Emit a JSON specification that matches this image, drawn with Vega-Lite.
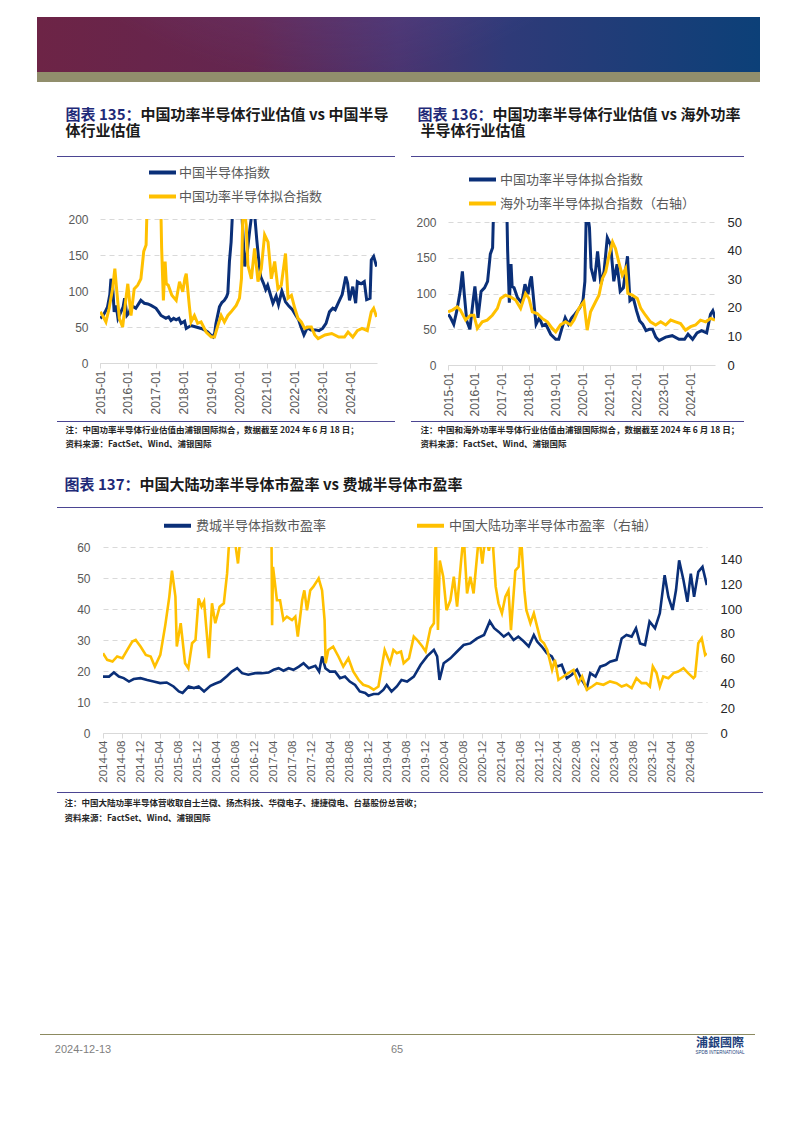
{
"$schema": "https://vega.github.io/schema/vega-lite/v6.json",
"background": "white",
"padding": {"left": 37, "top": 17, "right": 0, "bottom": 0},
"spacing": 0,
"resolve": {"scale": {"color": "independent"}, "legend": {"color": "independent"}},
"config": {
  "view": {"stroke": null},
  "font": "Noto Sans CJK SC",
  "concat": {"spacing": 0},
  "axis": {"labelFont": "Liberation Sans", "labelColor": "#595959", "labelFontSize": 12, "gridColor": "#d9d9d9", "gridDash": [5, 4], "domainColor": "#d9d9d9", "tickColor": "#d9d9d9"},
  "legend": {"labelFont": "Noto Sans CJK SC", "labelColor": "#595959", "labelFontSize": 13, "labelLimit": 300}
},
"datasets": {
"semi": [{"d":"2015-01-05","v":62},{"d":"2015-02-10","v":66},{"d":"2015-03-10","v":71},{"d":"2015-04-10","v":78},{"d":"2015-05-10","v":95},{"d":"2015-05-25","v":117},{"d":"2015-06-15","v":108},{"d":"2015-07-06","v":71},{"d":"2015-08-01","v":80},{"d":"2015-08-25","v":62},{"d":"2015-10-03","v":71},{"d":"2015-11-01","v":78},{"d":"2015-11-20","v":90},{"d":"2015-12-20","v":66},{"d":"2016-01-20","v":70},{"d":"2016-02-15","v":80},{"d":"2016-04-15","v":76},{"d":"2016-06-20","v":87},{"d":"2016-08-05","v":83},{"d":"2016-09-20","v":82},{"d":"2016-11-01","v":80},{"d":"2017-01-06","v":76},{"d":"2017-02-15","v":70},{"d":"2017-03-12","v":66},{"d":"2017-05-15","v":62},{"d":"2017-06-20","v":64},{"d":"2017-07-21","v":59},{"d":"2017-08-25","v":62},{"d":"2017-09-27","v":60},{"d":"2017-11-01","v":62},{"d":"2017-12-01","v":55},{"d":"2018-01-15","v":58},{"d":"2018-02-06","v":48},{"d":"2018-04-10","v":52},{"d":"2018-06-15","v":50},{"d":"2018-08-21","v":48},{"d":"2018-10-01","v":46},{"d":"2018-11-15","v":43},{"d":"2019-01-10","v":37},{"d":"2019-01-25","v":36},{"d":"2019-02-15","v":42},{"d":"2019-03-03","v":55},{"d":"2019-04-18","v":78},{"d":"2019-05-20","v":84},{"d":"2019-06-21","v":87},{"d":"2019-07-20","v":92},{"d":"2019-08-06","v":97},{"d":"2019-08-27","v":141},{"d":"2019-09-18","v":168},{"d":"2019-10-09","v":215},{"d":"2019-11-15","v":230},{"d":"2019-12-20","v":220},{"d":"2020-02-10","v":200},{"d":"2020-03-15","v":134},{"d":"2020-04-10","v":148},{"d":"2020-05-20","v":185},{"d":"2020-06-25","v":215},{"d":"2020-07-20","v":210},{"d":"2020-08-20","v":171},{"d":"2020-09-10","v":148},{"d":"2020-10-10","v":120},{"d":"2020-11-15","v":111},{"d":"2020-12-15","v":102},{"d":"2021-01-10","v":108},{"d":"2021-02-20","v":93},{"d":"2021-03-20","v":83},{"d":"2021-05-01","v":93},{"d":"2021-06-01","v":81},{"d":"2021-07-15","v":100},{"d":"2021-09-01","v":85},{"d":"2021-10-15","v":79},{"d":"2021-12-01","v":74},{"d":"2022-01-15","v":66},{"d":"2022-02-20","v":60},{"d":"2022-03-20","v":51},{"d":"2022-05-01","v":39},{"d":"2022-06-15","v":49},{"d":"2022-08-01","v":46},{"d":"2022-10-01","v":46},{"d":"2022-11-15","v":45},{"d":"2023-01-01","v":48},{"d":"2023-02-15","v":55},{"d":"2023-04-01","v":71},{"d":"2023-05-15","v":76},{"d":"2023-06-15","v":74},{"d":"2023-08-01","v":85},{"d":"2023-09-15","v":95},{"d":"2023-11-01","v":120},{"d":"2023-11-25","v":111},{"d":"2023-12-20","v":87},{"d":"2024-02-01","v":106},{"d":"2024-03-10","v":83},{"d":"2024-04-01","v":113},{"d":"2024-05-20","v":110},{"d":"2024-07-01","v":113},{"d":"2024-08-01","v":88},{"d":"2024-09-15","v":90},{"d":"2024-10-01","v":143},{"d":"2024-11-01","v":148},{"d":"2024-12-10","v":134}],
"pw": [{"d":"2015-01-05","v":71},{"d":"2015-02-05","v":66},{"d":"2015-03-20","v":57},{"d":"2015-05-01","v":76},{"d":"2015-06-15","v":103},{"d":"2015-07-15","v":131},{"d":"2015-08-10","v":99},{"d":"2015-09-12","v":62},{"d":"2015-10-25","v":50},{"d":"2015-12-08","v":90},{"d":"2016-01-01","v":110},{"d":"2016-02-12","v":66},{"d":"2016-03-25","v":103},{"d":"2016-05-10","v":108},{"d":"2016-06-21","v":117},{"d":"2016-07-28","v":155},{"d":"2016-08-28","v":164},{"d":"2016-09-18","v":250},{"d":"2016-11-15","v":270},{"d":"2017-01-15","v":260},{"d":"2017-03-05","v":240},{"d":"2017-03-20","v":160},{"d":"2017-04-12","v":87},{"d":"2017-05-05","v":141},{"d":"2017-05-20","v":110},{"d":"2017-06-15","v":108},{"d":"2017-08-01","v":94},{"d":"2017-09-27","v":87},{"d":"2017-11-10","v":113},{"d":"2017-12-22","v":99},{"d":"2018-01-20","v":118},{"d":"2018-02-06","v":124},{"d":"2018-03-18","v":80},{"d":"2018-04-10","v":57},{"d":"2018-05-24","v":66},{"d":"2018-07-06","v":55},{"d":"2018-08-20","v":57},{"d":"2018-10-25","v":43},{"d":"2019-01-01","v":36},{"d":"2019-02-12","v":36},{"d":"2019-03-28","v":52},{"d":"2019-05-10","v":66},{"d":"2019-06-22","v":57},{"d":"2019-08-06","v":66},{"d":"2019-09-18","v":71},{"d":"2019-11-24","v":80},{"d":"2020-01-06","v":90},{"d":"2020-02-01","v":117},{"d":"2020-02-22","v":225},{"d":"2020-04-03","v":192},{"d":"2020-04-25","v":136},{"d":"2020-06-10","v":117},{"d":"2020-07-22","v":159},{"d":"2020-09-05","v":113},{"d":"2020-10-18","v":131},{"d":"2020-12-01","v":178},{"d":"2021-01-15","v":168},{"d":"2021-02-27","v":117},{"d":"2021-04-12","v":141},{"d":"2021-05-25","v":103},{"d":"2021-07-07","v":108},{"d":"2021-09-01","v":152},{"d":"2021-10-04","v":90},{"d":"2021-11-18","v":94},{"d":"2022-01-01","v":76},{"d":"2022-02-12","v":62},{"d":"2022-03-27","v":57},{"d":"2022-05-10","v":48},{"d":"2022-06-24","v":50},{"d":"2022-08-06","v":50},{"d":"2022-09-20","v":39},{"d":"2022-11-03","v":34},{"d":"2023-02-01","v":39},{"d":"2023-05-01","v":41},{"d":"2023-08-01","v":36},{"d":"2023-10-15","v":36},{"d":"2023-12-01","v":43},{"d":"2024-02-01","v":36},{"d":"2024-04-01","v":45},{"d":"2024-06-01","v":48},{"d":"2024-08-10","v":45},{"d":"2024-10-01","v":71},{"d":"2024-11-01","v":76},{"d":"2024-12-10","v":64}],
"os": [{"d":"2015-01-01","v":18.6},{"d":"2015-03-01","v":19.2},{"d":"2015-05-06","v":20.3},{"d":"2015-06-18","v":19.2},{"d":"2015-08-28","v":15.7},{"d":"2015-11-03","v":17.4},{"d":"2015-12-18","v":17.4},{"d":"2016-02-03","v":12.8},{"d":"2016-04-10","v":15.1},{"d":"2016-06-15","v":15.7},{"d":"2016-08-25","v":17.4},{"d":"2016-11-01","v":19.8},{"d":"2016-12-15","v":23.3},{"d":"2017-02-20","v":24.4},{"d":"2017-04-28","v":23.8},{"d":"2017-07-06","v":22.7},{"d":"2017-09-12","v":19.8},{"d":"2017-11-18","v":25},{"d":"2018-01-03","v":23.3},{"d":"2018-02-18","v":18.6},{"d":"2018-04-25","v":18},{"d":"2018-07-01","v":16.3},{"d":"2018-09-10","v":15.1},{"d":"2018-11-15","v":12.8},{"d":"2019-01-01","v":11.6},{"d":"2019-03-06","v":14},{"d":"2019-05-15","v":15.1},{"d":"2019-07-22","v":14},{"d":"2019-09-06","v":15.7},{"d":"2019-11-12","v":19.8},{"d":"2020-01-18","v":22.1},{"d":"2020-03-03","v":12.2},{"d":"2020-04-18","v":18.6},{"d":"2020-06-25","v":22.1},{"d":"2020-08-10","v":24.4},{"d":"2020-09-25","v":30.2},{"d":"2020-11-10","v":32.6},{"d":"2020-12-25","v":38.4},{"d":"2021-02-10","v":43},{"d":"2021-03-22","v":40.7},{"d":"2021-05-06","v":36},{"d":"2021-06-22","v":31.4},{"d":"2021-08-06","v":33.7},{"d":"2021-09-06","v":25},{"d":"2021-11-06","v":24.4},{"d":"2022-01-12","v":23.3},{"d":"2022-02-28","v":19.8},{"d":"2022-05-03","v":17.4},{"d":"2022-07-10","v":15.1},{"d":"2022-09-18","v":14},{"d":"2022-11-25","v":15.1},{"d":"2023-02-01","v":14},{"d":"2023-04-10","v":15.7},{"d":"2023-06-15","v":15.1},{"d":"2023-08-22","v":14.5},{"d":"2023-10-28","v":12.2},{"d":"2024-01-06","v":13.4},{"d":"2024-03-12","v":14},{"d":"2024-05-18","v":15.7},{"d":"2024-07-28","v":15.1},{"d":"2024-10-03","v":16.3},{"d":"2024-12-01","v":15.7}],
"sox": [{"d":"2014-04-01","v":18.2},{"d":"2014-05-10","v":18.2},{"d":"2014-06-10","v":19.5},{"d":"2014-07-12","v":18.2},{"d":"2014-08-12","v":17.7},{"d":"2014-09-15","v":16.6},{"d":"2014-10-15","v":17.4},{"d":"2014-11-28","v":17.7},{"d":"2015-01-10","v":17.1},{"d":"2015-02-20","v":16.6},{"d":"2015-04-03","v":16.1},{"d":"2015-05-15","v":16.3},{"d":"2015-06-28","v":15},{"d":"2015-08-01","v":13.4},{"d":"2015-08-25","v":12.9},{"d":"2015-10-03","v":15},{"d":"2015-11-06","v":14.5},{"d":"2015-12-06","v":15},{"d":"2016-01-10","v":13.4},{"d":"2016-02-20","v":15.2},{"d":"2016-03-20","v":15.9},{"d":"2016-04-25","v":16.6},{"d":"2016-06-06","v":18.4},{"d":"2016-07-06","v":19.8},{"d":"2016-08-10","v":20.9},{"d":"2016-09-10","v":19.3},{"d":"2016-10-20","v":18.8},{"d":"2016-12-03","v":19.3},{"d":"2017-01-15","v":19.3},{"d":"2017-02-27","v":19.5},{"d":"2017-04-01","v":20.4},{"d":"2017-05-03","v":20.9},{"d":"2017-06-03","v":20.1},{"d":"2017-07-06","v":20.9},{"d":"2017-08-06","v":20.4},{"d":"2017-09-10","v":21.4},{"d":"2017-10-10","v":22.5},{"d":"2017-11-12","v":20.9},{"d":"2017-12-25","v":21.7},{"d":"2018-01-18","v":19.8},{"d":"2018-02-06","v":24.7},{"d":"2018-02-27","v":20.9},{"d":"2018-03-28","v":19.8},{"d":"2018-05-01","v":19.8},{"d":"2018-06-01","v":17.7},{"d":"2018-07-03","v":18.2},{"d":"2018-08-03","v":16.6},{"d":"2018-09-06","v":15.5},{"d":"2018-10-06","v":13.4},{"d":"2018-11-10","v":12.9},{"d":"2018-12-01","v":12},{"d":"2019-01-03","v":12.6},{"d":"2019-02-03","v":12.6},{"d":"2019-03-06","v":13.9},{"d":"2019-03-28","v":15.5},{"d":"2019-04-28","v":13.4},{"d":"2019-06-01","v":15},{"d":"2019-07-01","v":17.1},{"d":"2019-08-06","v":16.6},{"d":"2019-09-18","v":18.2},{"d":"2019-11-01","v":22},{"d":"2019-12-12","v":24.7},{"d":"2020-01-25","v":26.8},{"d":"2020-02-15","v":24.7},{"d":"2020-03-01","v":17.1},{"d":"2020-03-28","v":22.5},{"d":"2020-05-10","v":24.1},{"d":"2020-06-22","v":26.3},{"d":"2020-08-03","v":28.4},{"d":"2020-09-15","v":28.9},{"d":"2020-10-28","v":30.5},{"d":"2020-12-12","v":31.6},{"d":"2021-01-18","v":36},{"d":"2021-02-15","v":33.8},{"d":"2021-03-15","v":32.7},{"d":"2021-04-18","v":31.1},{"d":"2021-05-18","v":32.2},{"d":"2021-06-20","v":30},{"d":"2021-07-20","v":31.1},{"d":"2021-08-25","v":29.5},{"d":"2021-09-25","v":27.9},{"d":"2021-10-28","v":31.6},{"d":"2021-11-18","v":29.5},{"d":"2021-12-18","v":27.9},{"d":"2022-01-20","v":25.7},{"d":"2022-02-20","v":24.7},{"d":"2022-03-25","v":21.4},{"d":"2022-04-25","v":22},{"d":"2022-05-28","v":17.7},{"d":"2022-06-28","v":18.8},{"d":"2022-08-01","v":20.4},{"d":"2022-09-01","v":17.1},{"d":"2022-10-03","v":14.5},{"d":"2022-10-25","v":19.3},{"d":"2022-11-28","v":18.2},{"d":"2022-12-28","v":21.4},{"d":"2023-02-01","v":22},{"d":"2023-03-01","v":23},{"d":"2023-04-12","v":23.6},{"d":"2023-05-15","v":30.5},{"d":"2023-06-15","v":31.6},{"d":"2023-07-18","v":31.1},{"d":"2023-08-15","v":33.8},{"d":"2023-09-10","v":28.9},{"d":"2023-10-12","v":28.4},{"d":"2023-11-10","v":36},{"d":"2023-12-15","v":33.8},{"d":"2024-01-15","v":38.6},{"d":"2024-02-15","v":50.9},{"d":"2024-03-10","v":43.9},{"d":"2024-04-06","v":39.7},{"d":"2024-04-28","v":46.1},{"d":"2024-05-18","v":55.7},{"d":"2024-06-15","v":49.3},{"d":"2024-07-10","v":42.3},{"d":"2024-08-01","v":51.4},{"d":"2024-08-22","v":43.9},{"d":"2024-09-18","v":52},{"d":"2024-10-15","v":53.6},{"d":"2024-11-12","v":47.7}],
"cnpe": [{"d":"2014-04-01","v":64.3},{"d":"2014-04-28","v":59},{"d":"2014-06-01","v":57.6},{"d":"2014-07-01","v":61.7},{"d":"2014-08-04","v":60.3},{"d":"2014-09-04","v":67},{"d":"2014-10-06","v":73.7},{"d":"2014-10-28","v":75},{"d":"2014-11-28","v":69.7},{"d":"2015-01-01","v":63},{"d":"2015-02-01","v":61.7},{"d":"2015-02-28","v":53.6},{"d":"2015-04-04","v":63},{"d":"2015-05-06","v":87},{"d":"2015-06-01","v":110},{"d":"2015-06-18","v":131},{"d":"2015-07-10","v":110},{"d":"2015-07-19","v":69.7},{"d":"2015-08-13","v":88.5},{"d":"2015-09-10","v":56.3},{"d":"2015-10-01","v":52.3},{"d":"2015-10-25","v":72.4},{"d":"2015-11-16","v":75},{"d":"2015-12-06","v":108.6},{"d":"2015-12-25","v":101.9},{"d":"2016-01-10","v":106},{"d":"2016-02-10","v":60.3},{"d":"2016-03-01","v":104.6},{"d":"2016-03-22","v":88.5},{"d":"2016-04-19","v":101.9},{"d":"2016-05-16","v":104.6},{"d":"2016-06-06","v":128.7},{"d":"2016-06-22","v":160},{"d":"2016-07-15","v":165},{"d":"2016-08-15","v":136.7},{"d":"2016-09-01","v":160},{"d":"2016-10-15","v":175},{"d":"2016-12-15","v":180},{"d":"2017-02-10","v":170},{"d":"2017-03-18","v":160},{"d":"2017-03-22","v":87},{"d":"2017-03-28","v":134},{"d":"2017-04-22","v":107},{"d":"2017-05-12","v":107},{"d":"2017-06-03","v":91},{"d":"2017-06-25","v":93.8},{"d":"2017-07-28","v":91},{"d":"2017-08-18","v":93.8},{"d":"2017-09-03","v":77.7},{"d":"2017-10-01","v":107},{"d":"2017-10-15","v":115},{"d":"2017-11-01","v":99},{"d":"2017-11-22","v":115},{"d":"2017-12-12","v":118},{"d":"2018-01-15","v":124.7},{"d":"2018-02-06","v":115},{"d":"2018-02-22","v":91},{"d":"2018-03-01","v":56.3},{"d":"2018-03-18","v":67},{"d":"2018-04-18","v":69.7},{"d":"2018-05-22","v":61.7},{"d":"2018-06-22","v":53.6},{"d":"2018-07-25","v":60.3},{"d":"2018-08-25","v":49.6},{"d":"2018-09-28","v":42.9},{"d":"2018-10-28","v":38.9},{"d":"2018-12-01","v":37.5},{"d":"2019-01-03","v":34.9},{"d":"2019-02-03","v":37.5},{"d":"2019-02-25","v":53.6},{"d":"2019-03-15","v":67},{"d":"2019-04-18","v":56.3},{"d":"2019-05-10","v":67},{"d":"2019-06-01","v":64.3},{"d":"2019-06-28","v":65.7},{"d":"2019-07-15","v":56.3},{"d":"2019-08-18","v":60.3},{"d":"2019-09-18","v":77.7},{"d":"2019-10-10","v":75},{"d":"2019-11-12","v":69.7},{"d":"2019-12-03","v":65.7},{"d":"2020-01-03","v":84.5},{"d":"2020-01-25","v":88.5},{"d":"2020-02-06","v":160},{"d":"2020-02-20","v":83},{"d":"2020-03-03","v":139},{"d":"2020-03-25","v":126},{"d":"2020-04-15","v":99},{"d":"2020-05-10","v":107},{"d":"2020-06-01","v":126},{"d":"2020-06-22","v":102},{"d":"2020-07-18","v":139},{"d":"2020-08-03","v":160},{"d":"2020-08-25","v":112.6},{"d":"2020-09-15","v":126},{"d":"2020-10-06","v":112.6},{"d":"2020-11-10","v":160},{"d":"2020-12-01","v":136.7},{"d":"2020-12-22","v":160},{"d":"2021-01-12","v":147},{"d":"2021-02-03","v":160},{"d":"2021-02-25","v":118},{"d":"2021-03-15","v":104.6},{"d":"2021-04-06","v":96.5},{"d":"2021-04-28","v":110},{"d":"2021-05-18","v":115},{"d":"2021-06-03","v":83},{"d":"2021-07-01","v":131},{"d":"2021-07-22","v":134},{"d":"2021-08-06","v":160},{"d":"2021-08-28","v":115},{"d":"2021-09-10","v":99},{"d":"2021-10-06","v":88.5},{"d":"2021-10-28","v":96.5},{"d":"2021-11-18","v":85.8},{"d":"2021-12-10","v":75},{"d":"2022-01-01","v":72.4},{"d":"2022-01-22","v":67},{"d":"2022-02-22","v":50.9},{"d":"2022-03-12","v":59},{"d":"2022-04-04","v":42.9},{"d":"2022-05-06","v":45.6},{"d":"2022-06-06","v":48.3},{"d":"2022-07-10","v":50.9},{"d":"2022-08-10","v":40.2},{"d":"2022-09-03","v":45.6},{"d":"2022-10-03","v":34.9},{"d":"2022-11-06","v":37.5},{"d":"2022-12-06","v":40.2},{"d":"2023-01-18","v":38.9},{"d":"2023-03-01","v":41.6},{"d":"2023-04-12","v":40.2},{"d":"2023-05-15","v":37.5},{"d":"2023-06-15","v":38.9},{"d":"2023-07-18","v":36.2},{"d":"2023-08-18","v":44.2},{"d":"2023-09-20","v":40.2},{"d":"2023-10-20","v":40.2},{"d":"2023-11-12","v":37.5},{"d":"2023-12-01","v":53.6},{"d":"2023-12-25","v":48.3},{"d":"2024-01-15","v":37.5},{"d":"2024-02-06","v":45.6},{"d":"2024-03-10","v":44.2},{"d":"2024-04-12","v":48.3},{"d":"2024-05-12","v":49.6},{"d":"2024-06-15","v":52.3},{"d":"2024-07-15","v":48.3},{"d":"2024-08-18","v":44.2},{"d":"2024-08-28","v":45.6},{"d":"2024-09-18","v":72.4},{"d":"2024-10-10","v":76.4},{"d":"2024-11-01","v":63},{"d":"2024-11-12","v":64.3}]
},
"vconcat": [
  {"width": 723, "height": 55, "data": {"values": [{}]},
   "layer": [
     {"mark": {"type": "rect", "fill": {"gradient": "linear", "x1": 0, "y1": 0, "x2": 1, "y2": 0, "stops": [{"offset": 0, "color": "#6d2446"}, {"offset": 0.3, "color": "#632650"}, {"offset": 0.5, "color": "#4a3470"}, {"offset": 0.65, "color": "#2f3a78"}, {"offset": 1, "color": "#0c4078"}]}}},
     {"mark": {"type": "rect", "fill": {"gradient": "radial", "x1": 0.4, "y1": 0, "r1": 0, "x2": 0.4, "y2": 0, "r2": 0.55, "stops": [{"offset": 0, "color": "rgba(125,105,195,0.65)"}, {"offset": 1, "color": "rgba(125,105,195,0)"}]}}},
     {"mark": {"type": "rect", "fill": {"gradient": "radial", "x1": 0.55, "y1": 1, "r1": 0, "x2": 0.55, "y2": 1, "r2": 0.45, "stops": [{"offset": 0, "color": "rgba(30,10,30,0.6)"}, {"offset": 1, "color": "rgba(30,10,30,0)"}]}}},
     {"mark": {"type": "rect", "fill": {"gradient": "radial", "x1": 1, "y1": 1, "r1": 0, "x2": 1, "y2": 1, "r2": 0.35, "stops": [{"offset": 0, "color": "rgba(90,55,150,0.7)"}, {"offset": 1, "color": "rgba(90,55,150,0)"}]}}}
   ]},
  {"width": 723, "height": 10, "data": {"values": [{}]}, "mark": {"type": "rect", "color": "#918e6c"}},
  {"hconcat": [
    {"width": 20, "height": 1, "data": {"values": [{}]}, "mark": {"type": "rect", "opacity": 0}},
    {"vconcat": [
      {"width": 1, "height": 25, "data": {"values": [{}]}, "mark": {"type": "rect", "opacity": 0}},
      {"width": 1, "height": 16, "data": {"values": [{}]},
       "layer": [
         {"mark": {"type": "text", "text": "图表 135：", "align": "right", "baseline": "middle", "dx": 83, "font": "Noto Sans CJK SC", "fontSize": 15, "fontWeight": "bold", "color": "#1f2a78"}},
         {"mark": {"type": "text", "text": "中国功率半导体行业估值 vs 中国半导", "align": "left", "baseline": "middle", "dx": 83, "font": "Noto Sans CJK SC", "fontSize": 15, "fontWeight": "bold", "color": "#1a1a1a"}}
       ]},
      {"width": 1, "height": 16, "data": {"values": [{}]},
       "mark": {"type": "text", "text": "体行业估值", "align": "left", "baseline": "middle", "dx": 8, "font": "Noto Sans CJK SC", "fontSize": 15, "fontWeight": "bold", "color": "#1a1a1a"}},
      {"width": 1, "height": 17, "data": {"values": [{}]}, "mark": {"type": "rect", "opacity": 0}},
      {"width": 338, "height": 1, "data": {"values": [{}]}, "mark": {"type": "rect", "color": "#4b4592"}},
      {"hconcat": [
        {"width": 1, "height": 1, "data": {"values": [{}]}, "mark": {"type": "rect", "opacity": 0}},
        {"width": 277, "height": 144,
         "layer": [
           {"data": {"name": "semi"}, "mark": {"type": "line", "clip": true, "strokeWidth": 3},
            "encoding": {
              "x": {"field": "d", "type": "temporal", "scale": {"domain": [{"year": 2015, "month": 1, "date": 1}, {"year": 2024, "month": 12, "date": 15}]},
                    "axis": {"title": null, "format": "%Y-%m", "labelAngle": 270, "tickCount": {"interval": "year", "step": 1}, "grid": false, "tickSize": 5, "labelPadding": 2, "labelOverlap": false, "labelFontSize": 12, "minExtent": 58, "maxExtent": 58}},
              "y": {"field": "v", "type": "quantitative", "scale": {"domain": [0, 200], "nice": false},
                    "axis": {"title": null, "values": [0, 50, 100, 150, 200], "grid": true, "domain": false, "ticks": false, "labelPadding": 12, "labelOverlap": false, "minExtent": 42, "maxExtent": 42}},
              "color": {"datum": "中国半导体指数", "scale": {"domain": ["中国半导体指数", "中国功率半导体拟合指数"], "range": ["#0a2f78", "#ffc000"]},
                        "legend": {"title": null, "orient": "none", "legendX": 47, "legendY": -62, "direction": "vertical", "symbolType": "stroke", "symbolStrokeWidth": 4, "symbolSize": 729, "rowPadding": -8, "labelOffset": 1}}
            }},
           {"data": {"name": "pw"}, "mark": {"type": "line", "clip": true, "strokeWidth": 3},
            "encoding": {
              "x": {"field": "d", "type": "temporal",
                    "axis": {"title": null, "format": "%Y-%m", "labelAngle": 270, "tickCount": {"interval": "year", "step": 1}, "grid": false, "tickSize": 5, "labelPadding": 2, "labelOverlap": false, "labelFontSize": 12, "minExtent": 58, "maxExtent": 58}},
              "y": {"field": "v", "type": "quantitative",
                    "axis": {"title": null, "values": [0, 50, 100, 150, 200], "grid": true, "domain": false, "ticks": false, "labelPadding": 12, "labelOverlap": false, "minExtent": 42, "maxExtent": 42}},
              "color": {"datum": "中国功率半导体拟合指数"}
            }}
         ]}
      ], "spacing": 0, "resolve": {"scale": {"color": "independent"}, "legend": {"color": "independent"}}},
      {"width": 338, "height": 1, "data": {"values": [{}]}, "mark": {"type": "rect", "color": "#4b4592"}},
      {"width": 1, "height": 1, "data": {"values": [{}]}, "mark": {"type": "rect", "opacity": 0}},
      {"width": 1, "height": 14, "data": {"values": [{}]},
       "mark": {"type": "text", "text": "注：中国功率半导体行业估值由浦银国际拟合，数据截至 2024 年 6 月 18 日；", "align": "left", "baseline": "middle", "dx": 8, "font": "Noto Sans CJK SC", "fontSize": 8.5, "fontWeight": "bold", "color": "#262626"}},
      {"width": 1, "height": 14, "data": {"values": [{}]},
       "mark": {"type": "text", "text": "资料来源：FactSet、Wind、浦银国际", "align": "left", "baseline": "middle", "dx": 8, "font": "Noto Sans CJK SC", "fontSize": 8.5, "fontWeight": "bold", "color": "#262626"}}
    ], "spacing": 0, "resolve": {"scale": {"color": "independent"}, "legend": {"color": "independent"}}},
    {"width": 16, "height": 1, "data": {"values": [{}]}, "mark": {"type": "rect", "opacity": 0}},
    {"vconcat": [
      {"width": 1, "height": 25, "data": {"values": [{}]}, "mark": {"type": "rect", "opacity": 0}},
      {"width": 1, "height": 16, "data": {"values": [{}]},
       "layer": [
         {"mark": {"type": "text", "text": "图表 136：", "align": "right", "baseline": "middle", "dx": 81, "font": "Noto Sans CJK SC", "fontSize": 15, "fontWeight": "bold", "color": "#1f2a78"}},
         {"mark": {"type": "text", "text": "中国功率半导体行业估值 vs 海外功率", "align": "left", "baseline": "middle", "dx": 81, "font": "Noto Sans CJK SC", "fontSize": 15, "fontWeight": "bold", "color": "#1a1a1a"}}
       ]},
      {"width": 1, "height": 16, "data": {"values": [{}]},
       "mark": {"type": "text", "text": "半导体行业估值", "align": "left", "baseline": "middle", "dx": 9, "font": "Noto Sans CJK SC", "fontSize": 15, "fontWeight": "bold", "color": "#1a1a1a"}},
      {"width": 1, "height": 17, "data": {"values": [{}]}, "mark": {"type": "rect", "opacity": 0}},
      {"width": 333, "height": 1, "data": {"values": [{}]}, "mark": {"type": "rect", "color": "#4b4592"}},
      {"width": 1, "height": 7, "data": {"values": [{}]}, "mark": {"type": "rect", "opacity": 0}},
      {"hconcat": [
        {"width": 1, "height": 1, "data": {"values": [{}]}, "mark": {"type": "rect", "opacity": 0}},
        {"width": 267, "height": 143,
         "layer": [
           {"data": {"name": "pw"}, "mark": {"type": "line", "clip": true, "strokeWidth": 3},
            "encoding": {
              "x": {"field": "d", "type": "temporal", "scale": {"domain": [{"year": 2015, "month": 1, "date": 1}, {"year": 2024, "month": 12, "date": 1}]},
                    "axis": {"title": null, "format": "%Y-%m", "labelAngle": 270, "tickCount": {"interval": "year", "step": 1}, "grid": false, "tickSize": 5, "labelPadding": 2, "labelOverlap": false, "labelFontSize": 12, "minExtent": 56, "maxExtent": 56}},
              "y": {"field": "v", "type": "quantitative", "scale": {"domain": [0, 200], "nice": false},
                    "axis": {"title": null, "values": [0, 50, 100, 150, 200], "grid": true, "domain": false, "ticks": false, "labelPadding": 12, "labelOverlap": false, "minExtent": 36, "maxExtent": 36}},
              "color": {"datum": "中国功率半导体拟合指数", "scale": {"domain": ["中国功率半导体拟合指数", "海外功率半导体拟合指数（右轴）"], "range": ["#0a2f78", "#ffc000"]},
                        "legend": {"title": null, "orient": "none", "legendX": 19, "legendY": -58, "direction": "vertical", "symbolType": "stroke", "symbolStrokeWidth": 4, "symbolSize": 729, "rowPadding": -11, "labelOffset": 2}}
            }},
           {"data": {"name": "os"}, "mark": {"type": "line", "clip": true, "strokeWidth": 3},
            "encoding": {
              "x": {"field": "d", "type": "temporal",
                    "axis": {"title": null, "format": "%Y-%m", "labelAngle": 270, "tickCount": {"interval": "year", "step": 1}, "grid": false, "tickSize": 5, "labelPadding": 2, "labelOverlap": false, "labelFontSize": 12, "minExtent": 56, "maxExtent": 56}},
              "y": {"field": "v", "type": "quantitative", "scale": {"domain": [0, 50], "nice": false},
                    "axis": {"title": null, "orient": "right", "values": [0, 10, 20, 30, 40, 50], "grid": false, "domain": false, "ticks": false, "labelPadding": 12, "labelOverlap": false, "labelColor": "#262626", "labelFontSize": 13}},
              "color": {"datum": "海外功率半导体拟合指数（右轴）"}
            }}
         ],
         "resolve": {"scale": {"y": "independent"}}}
      ], "spacing": 0, "resolve": {"scale": {"color": "independent"}, "legend": {"color": "independent"}}},
      {"width": 333, "height": 1, "data": {"values": [{}]}, "mark": {"type": "rect", "color": "#4b4592"}},
      {"width": 1, "height": 1, "data": {"values": [{}]}, "mark": {"type": "rect", "opacity": 0}},
      {"width": 1, "height": 14, "data": {"values": [{}]},
       "mark": {"type": "text", "text": "注：中国和海外功率半导体行业估值由浦银国际拟合，数据截至 2024 年 6 月 18 日；", "align": "left", "baseline": "middle", "dx": 9, "font": "Noto Sans CJK SC", "fontSize": 8.5, "fontWeight": "bold", "color": "#262626"}},
      {"width": 1, "height": 14, "data": {"values": [{}]},
       "mark": {"type": "text", "text": "资料来源：FactSet、Wind、浦银国际", "align": "left", "baseline": "middle", "dx": 9, "font": "Noto Sans CJK SC", "fontSize": 8.5, "fontWeight": "bold", "color": "#262626"}}
    ], "spacing": 0, "resolve": {"scale": {"color": "independent"}, "legend": {"color": "independent"}}}
  ], "spacing": 0, "resolve": {"scale": {"color": "independent"}, "legend": {"color": "independent"}}},
  {"hconcat": [
    {"width": 20, "height": 1, "data": {"values": [{}]}, "mark": {"type": "rect", "opacity": 0}},
    {"vconcat": [
      {"width": 1, "height": 22, "data": {"values": [{}]}, "mark": {"type": "rect", "opacity": 0}},
      {"width": 1, "height": 24, "data": {"values": [{}]},
       "layer": [
         {"mark": {"type": "text", "text": "图表 137：", "align": "right", "baseline": "middle", "dx": 82, "font": "Noto Sans CJK SC", "fontSize": 15, "fontWeight": "bold", "color": "#1f2a78"}},
         {"mark": {"type": "text", "text": "中国大陆功率半导体市盈率 vs 费城半导体市盈率", "align": "left", "baseline": "middle", "dx": 82, "font": "Noto Sans CJK SC", "fontSize": 15, "fontWeight": "bold", "color": "#1a1a1a"}}
       ]},
      {"width": 1, "height": 10, "data": {"values": [{}]}, "mark": {"type": "rect", "opacity": 0}},
      {"width": 706, "height": 1, "data": {"values": [{}]}, "mark": {"type": "rect", "color": "#4b4592"}},
      {"width": 1, "height": 2, "data": {"values": [{}]}, "mark": {"type": "rect", "opacity": 0}},
      {"hconcat": [
        {"width": 1, "height": 1, "data": {"values": [{}]}, "mark": {"type": "rect", "opacity": 0}},
        {"width": 604, "height": 186,
         "layer": [
           {"data": {"name": "sox"}, "mark": {"type": "line", "clip": true, "strokeWidth": 2.6},
            "encoding": {
              "x": {"field": "d", "type": "temporal", "scale": {"domain": [{"year": 2014, "month": 4, "date": 1}, {"year": 2024, "month": 11, "date": 13}]},
                    "axis": {"title": null, "format": "%Y-%m", "labelAngle": 270, "grid": false, "tickSize": 5, "labelPadding": 2, "labelOverlap": false, "labelFontSize": 11.5, "minExtent": 59, "maxExtent": 59,
                             "values": [{"year":2014,"month":4,"date":1},{"year":2014,"month":8,"date":1},{"year":2014,"month":12,"date":1},{"year":2015,"month":4,"date":1},{"year":2015,"month":8,"date":1},{"year":2015,"month":12,"date":1},{"year":2016,"month":4,"date":1},{"year":2016,"month":8,"date":1},{"year":2016,"month":12,"date":1},{"year":2017,"month":4,"date":1},{"year":2017,"month":8,"date":1},{"year":2017,"month":12,"date":1},{"year":2018,"month":4,"date":1},{"year":2018,"month":8,"date":1},{"year":2018,"month":12,"date":1},{"year":2019,"month":4,"date":1},{"year":2019,"month":8,"date":1},{"year":2019,"month":12,"date":1},{"year":2020,"month":4,"date":1},{"year":2020,"month":8,"date":1},{"year":2020,"month":12,"date":1},{"year":2021,"month":4,"date":1},{"year":2021,"month":8,"date":1},{"year":2021,"month":12,"date":1},{"year":2022,"month":4,"date":1},{"year":2022,"month":8,"date":1},{"year":2022,"month":12,"date":1},{"year":2023,"month":4,"date":1},{"year":2023,"month":8,"date":1},{"year":2023,"month":12,"date":1},{"year":2024,"month":4,"date":1},{"year":2024,"month":8,"date":1}]}},
              "y": {"field": "v", "type": "quantitative", "scale": {"domain": [0, 60], "nice": false},
                    "axis": {"title": null, "values": [0, 10, 20, 30, 40, 50, 60], "grid": true, "domain": false, "ticks": false, "labelPadding": 13, "labelOverlap": false, "minExtent": 45, "maxExtent": 45}},
              "color": {"datum": "费城半导体指数市盈率", "scale": {"domain": ["费城半导体指数市盈率", "中国大陆功率半导体市盈率（右轴）"], "range": ["#0a2f78", "#ffc000"]},
                        "legend": {"title": null, "orient": "none", "legendX": 59, "legendY": -37, "direction": "horizontal", "symbolType": "stroke", "symbolStrokeWidth": 4, "symbolSize": 729, "columnPadding": 82, "labelOffset": 3}}
            }},
           {"data": {"name": "cnpe"}, "mark": {"type": "line", "clip": true, "strokeWidth": 2.6},
            "encoding": {
              "x": {"field": "d", "type": "temporal",
                    "axis": {"title": null, "format": "%Y-%m", "labelAngle": 270, "grid": false, "tickSize": 5, "labelPadding": 2, "labelOverlap": false, "labelFontSize": 11.5, "minExtent": 59, "maxExtent": 59,
                             "values": [{"year":2014,"month":4,"date":1},{"year":2014,"month":8,"date":1},{"year":2014,"month":12,"date":1},{"year":2015,"month":4,"date":1},{"year":2015,"month":8,"date":1},{"year":2015,"month":12,"date":1},{"year":2016,"month":4,"date":1},{"year":2016,"month":8,"date":1},{"year":2016,"month":12,"date":1},{"year":2017,"month":4,"date":1},{"year":2017,"month":8,"date":1},{"year":2017,"month":12,"date":1},{"year":2018,"month":4,"date":1},{"year":2018,"month":8,"date":1},{"year":2018,"month":12,"date":1},{"year":2019,"month":4,"date":1},{"year":2019,"month":8,"date":1},{"year":2019,"month":12,"date":1},{"year":2020,"month":4,"date":1},{"year":2020,"month":8,"date":1},{"year":2020,"month":12,"date":1},{"year":2021,"month":4,"date":1},{"year":2021,"month":8,"date":1},{"year":2021,"month":12,"date":1},{"year":2022,"month":4,"date":1},{"year":2022,"month":8,"date":1},{"year":2022,"month":12,"date":1},{"year":2023,"month":4,"date":1},{"year":2023,"month":8,"date":1},{"year":2023,"month":12,"date":1},{"year":2024,"month":4,"date":1},{"year":2024,"month":8,"date":1}]}},
              "y": {"field": "v", "type": "quantitative", "scale": {"domain": [0, 150], "nice": false},
                    "axis": {"title": null, "orient": "right", "values": [0, 20, 40, 60, 80, 100, 120, 140], "grid": false, "domain": false, "ticks": false, "labelPadding": 13, "labelOverlap": false, "labelColor": "#262626", "labelFontSize": 13}},
              "color": {"datum": "中国大陆功率半导体市盈率（右轴）"}
            }}
         ],
         "resolve": {"scale": {"y": "independent"}}}
      ], "spacing": 0, "resolve": {"scale": {"color": "independent"}, "legend": {"color": "independent"}}},
      {"width": 706, "height": 1, "data": {"values": [{}]}, "mark": {"type": "rect", "color": "#4b4592"}},
      {"width": 1, "height": 20, "data": {"values": [{}]},
       "mark": {"type": "text", "text": "注：中国大陆功率半导体营收取自士兰微、扬杰科技、华微电子、捷捷微电、台基股份总营收；", "align": "left", "baseline": "middle", "dx": 7, "font": "Noto Sans CJK SC", "fontSize": 8.5, "fontWeight": "bold", "color": "#262626"}},
      {"width": 1, "height": 10, "data": {"values": [{}]},
       "mark": {"type": "text", "text": "资料来源：FactSet、Wind、浦银国际", "align": "left", "baseline": "middle", "dx": 7, "font": "Noto Sans CJK SC", "fontSize": 8.5, "fontWeight": "bold", "color": "#262626"}}
    ], "spacing": 0, "resolve": {"scale": {"color": "independent"}, "legend": {"color": "independent"}}}
  ], "spacing": 0, "resolve": {"scale": {"color": "independent"}, "legend": {"color": "independent"}}},
  {"hconcat": [
    {"width": 3, "height": 1, "data": {"values": [{}]}, "mark": {"type": "rect", "opacity": 0}},
    {"vconcat": [
      {"width": 1, "height": 211, "data": {"values": [{}]}, "mark": {"type": "rect", "opacity": 0}},
      {"width": 715, "height": 1, "data": {"values": [{}]}, "mark": {"type": "rect", "color": "#8c8a60"}},
      {"hconcat": [
        {"width": 86, "height": 30, "data": {"values": [{}]}, "mark": {"type": "text", "text": "2024-12-13", "font": "Liberation Sans", "fontSize": 11, "color": "#7f7f7f"}},
        {"width": 542, "height": 30, "data": {"values": [{}]}, "mark": {"type": "text", "text": "65", "font": "Liberation Sans", "fontSize": 11, "color": "#7f7f7f"}},
        {"width": 104, "height": 30, "data": {"values": [{}]},
         "layer": [
           {"mark": {"type": "text", "text": "浦銀國際", "baseline": "bottom", "font": "Noto Sans CJK TC", "fontSize": 12, "fontWeight": "bold", "color": "#1e3f7c"}},
           {"mark": {"type": "text", "text": "SPDB INTERNATIONAL", "baseline": "top", "font": "Liberation Sans", "fontSize": 4.5, "color": "#1e3f7c"}}
         ]}
      ], "spacing": 0}
    ], "spacing": 0}
  ], "spacing": 0}
]
}
